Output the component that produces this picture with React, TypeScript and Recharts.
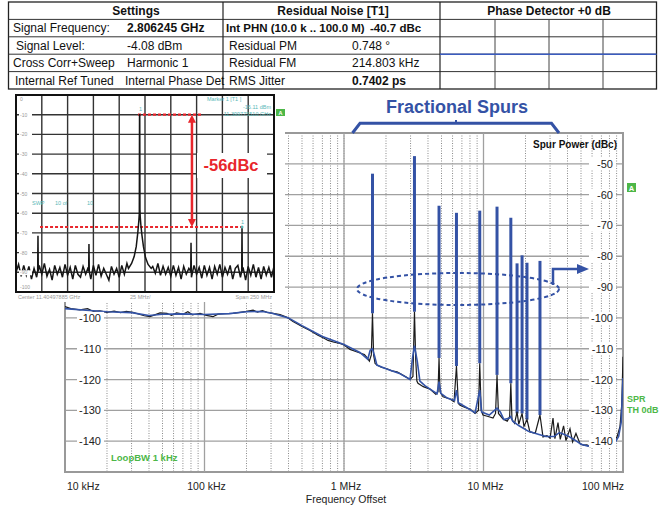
import {
  ComposedChart,
  LineChart,
  Line,
  XAxis,
  YAxis,
  CartesianGrid,
  ReferenceLine,
  ReferenceArea,
} from "recharts";

const FONT = '"Liberation Sans", Arial, Helvetica, sans-serif';
const BLUE = "#3452a5";
const GREEN = "#4db748";
const TEAL = "#5ab8b8";
const RED = "#e8262c";

// ---- main plot: frequency axis
const decadeFreq = [1e4, 1e5, 1e6, 1e7, 1e8];
const decadeLabel = ["10 kHz", "100 kHz", "1 MHz", "10 MHz", "100 MHz"];
const minorSteps = [2, 3, 4, 5, 6, 7, 8, 9];
const dbTicks = [-50, -60, -70, -80, -90, -100, -110, -120, -130, -140];

// measured phase noise (black, raw sweep)
const rawFreq = [
  1.0e4, 1.1e4, 1.28e4, 1.45e4, 1.6e4, 1.78e4, 2.0e4, 2.25e4, 2.5e4, 2.75e4,
  3.07e4, 3.4e4, 3.7e4, 4.06e4, 4.4e4, 4.8e4, 5.38e4, 5.8e4, 6.3e4, 7.0e4,
  7.6e4, 8.2e4, 9.3e4, 1.03e5, 1.15e5, 1.25e5, 1.4e5, 1.6e5, 1.8e5, 2.0e5,
  2.23e5, 2.4e5, 2.6e5, 2.81e5, 3.1e5, 3.48e5, 3.9e5, 4.31e5, 5.0e5, 5.7e5,
  6.5e5, 7.2e5, 7.68e5, 8.5e5, 9.36e5, 1.0e6, 1.104e6, 1.2e6, 1.302e6, 1.4e6,
  1.462e6, 1.52e6, 1.57e6, 1.6e6, 1.63e6, 1.67e6, 1.725e6, 1.85e6, 2.03e6, 2.2e6,
  2.4e6, 2.6e6, 2.83e6, 2.97e6, 3.12e6, 3.2e6, 3.27e6, 3.33e6, 3.39e6, 3.7e6,
  4.13e6, 4.56e6, 4.72e6, 4.8e6, 4.88e6, 5.13e6, 5.75e6, 6.15e6, 6.4e6, 6.6e6,
  6.79e6, 7.3e6, 8.0e6, 8.7e6, 9.2e6, 9.4e6, 9.62e6, 9.91e6, 1.08e7, 1.17e7,
  1.22e7, 1.25e7, 1.28e7, 1.38e7, 1.48e7, 1.54e7, 1.57e7, 1.6e7, 1.67e7, 1.74e7,
  1.79e7, 1.89e7, 1.95e7, 2.05e7, 2.15e7, 2.35e7, 2.54e7, 2.67e7, 2.85e7, 3.0e7,
  3.15e7, 3.25e7, 3.42e7, 3.55e7, 3.75e7, 3.9e7, 4.17e7, 4.35e7, 4.6e7, 4.92e7,
  5.2e7, 5.52e7, 5.8e7, 6.1e7, 6.4e7, 6.62e7, 6.85e7, 7.19e7, 7.5e7, 8.07e7,
  8.6e7, 9.06e7, 9.51e7, 9.8e7, 1.0e8,
];
const rawDbc = [
  -96.3, -97.0, -97.4, -97.0, -97.9, -97.7, -98.2, -97.8, -98.3, -97.9,
  -98.2, -98.8, -99.3, -99.6, -99.0, -98.4, -98.5, -99.2, -98.4, -98.8,
  -98.0, -99.0, -98.5, -99.2, -99.6, -98.8, -98.6, -98.5, -98.2, -97.9,
  -97.5, -98.1, -97.6, -98.2, -98.5, -98.9, -99.8, -101.2, -102.8, -104.1,
  -105.6, -106.6, -107.3, -107.9, -108.3, -108.8, -110.2, -110.8, -111.4, -111.9,
  -112.9, -114.0, -112.0, -98.5, -112.0, -114.8, -115.3, -116.0, -116.5, -117.2,
  -117.5, -118.4, -119.3, -120.0, -119.0, -98.0, -114.0, -120.5, -121.2, -122.3,
  -123.1, -124.8, -124.0, -113.0, -124.0, -125.6, -126.3, -127.2, -115.6, -127.8,
  -128.3, -129.0, -129.6, -131.0, -130.0, -114.7, -130.0, -131.5, -132.0, -132.5,
  -131.0, -118.5, -131.0, -132.8, -133.5, -132.0, -121.2, -133.0, -134.2, -130.5,
  -134.5, -131.0, -135.2, -133.0, -137.0, -137.4, -131.5, -138.6, -138.2, -139.0,
  -132.5, -139.2, -134.0, -139.4, -135.0, -139.8, -136.0, -140.2, -137.5, -140.8,
  -141.3, -141.2, -141.8, -140.8, -139.2, -138.6, -140.6, -140.2, -141.5, -141.0,
  -140.0, -138.6, -135.3, -128.0, -112.6,
];

// smoothed trace (blue)
const smoothFreq = [
  1.0e4, 1.5e4, 2.0e4, 3.0e4, 4.0e4, 5.0e4, 7.0e4, 1.0e5, 1.5e5, 2.0e5,
  2.6e5, 3.0e5, 4.0e5, 5.0e5, 7.0e5, 1.0e6, 1.3e6, 1.48e6, 1.54e6, 1.6e6,
  1.66e6, 1.72e6, 2.0e6, 2.5e6, 2.97e6, 3.1e6, 3.2e6, 3.35e6, 3.5e6, 3.8e6,
  4.3e6, 4.65e6, 4.8e6, 4.95e6, 5.5e6, 6.2e6, 6.4e6, 6.6e6, 7.5e6, 8.7e6,
  9.4e6, 9.7e6, 1.1e7, 1.2e7, 1.25e7, 1.32e7, 1.4e7, 1.54e7, 1.57e7, 1.62e7,
  1.8e7, 2.1e7, 2.5e7, 2.8e7, 3.2e7, 3.5e7, 4.0e7, 4.5e7, 5.0e7, 5.6e7,
  6.2e7, 6.6e7, 7.2e7, 8.0e7, 8.8e7, 9.3e7, 9.7e7, 1.0e8,
];
const smoothDbc = [
  -97.0, -97.6, -98.0, -98.3, -99.2, -98.8, -98.7, -98.9, -98.6, -98.0,
  -97.9, -98.4, -100.0, -102.5, -106.0, -108.6, -111.2, -113.4, -110.5, -110.0,
  -112.5, -115.3, -116.5, -118.0, -120.0, -113.0, -109.0, -114.0, -120.5, -122.0,
  -123.6, -124.6, -120.7, -124.5, -126.0, -126.8, -123.4, -127.5, -129.0, -130.8,
  -123.4, -130.5, -131.5, -130.0, -129.3, -130.5, -133.0, -132.5, -132.0, -133.5,
  -135.0, -136.8, -137.8, -138.5, -138.5, -137.2, -138.2, -139.6, -141.0, -141.6,
  -140.5, -139.3, -140.5, -141.5, -140.3, -138.5, -134.0, -119.5,
];

// fractional spurs (blue bars): offset, spur power, foot of the bar
const spurFreq = [1.6e6, 3.2e6, 4.8e6, 6.4e6, 9.4e6, 1.25e7, 1.57e7, 1.74e7, 1.89e7, 2.05e7, 2.54e7];
const spurPower = [-53.2, -47.5, -63.6, -65.9, -65.2, -63.9, -67.5, -82.3, -79.7, -82.1, -81.5];
const spurFoot = [-98.5, -98.0, -113.0, -115.6, -114.7, -118.5, -121.2, -131.0, -131.0, -133.0, -131.5];

// ---- inset spectrum (x = offset from centre, MHz)
const insetXTicks = [-125, -100, -75, -50, -25, 0, 25, 50, 75, 100, 125];
const insetYTicks = [0, -10, -20, -30, -40, -50, -60, -70, -80, -90, -100];
const insetFloor = [
  -90, -86, -92, -86.5, -91.5, -87, -93.5, -88, -92.5, -86.5,
  -91, -85.5, -92, -88.5, -94, -86.5, -91, -87.5, -92.5, -86,
  -91.5, -87.5, -93.5, -86.5, -91, -92.5, -87, -91, -87.5, -93.5,
  -86.5, -91.5, -86, -92, -88, -91, -94, -87, -91, -88,
  -92.5, -86.5, -91, -85.5, -90.5, -92.5, -87, -91, -87.5, -93,
  -88, -86.5, -91, -87, -90.5, -85.5, -91.5, -87, -91, -87.5,
  -92, -86.5, -91.5, -87.5, -93.5, -87, -91, -88, -92.5, -86.5,
  -91, -87.5, -93, -86.5, -91.5, -87.5, -93.5, -87, -91, -86,
  -92.5, -87.5, -91, -86.5, -93.5, -88, -86.5, -92.5, -87.5, -94,
  -87, -91.5, -86, -92.5, -87.5, -93.5, -87, -91.5, -87.5, -92.5, -87,
];
const carrierX = [-16, -13, -10.5, -8.5, -7, -6, -5.5, -5.3, -5.1, -4.9, -4.6, -4, -3, -1.5, 0.5, 3, 6];
const carrierY = [-88, -85.5, -82, -77, -70, -64, -60, -10, -10, -58, -62, -66, -71, -77, -82.5, -86, -88];
const insetSpurX = [-103.7, -54.3, 44.6, 94];
const insetSpurY = [-71.5, -75.7, -75, -67];
const insetSpurBase = -89.5;
const carrierLevel = -10;
const markerLevel = -67;

function buildInset() {
  const pts: { x: number; y: number }[] = [];
  insetFloor.forEach((v, i) => {
    const x = -125 + i * 2.5;
    if (x < -17 || x > 7) pts.push({ x, y: v });
  });
  carrierX.forEach((x, i) => pts.push({ x, y: carrierY[i] }));
  insetSpurX.forEach((x, i) => {
    pts.push({ x: x - 0.3, y: insetSpurBase });
    pts.push({ x, y: insetSpurY[i] });
    pts.push({ x: x + 0.3, y: insetSpurBase });
  });
  return pts.sort((a, b) => a.x - b.x);
}

const rawData = rawFreq.map((f, i) => ({ f, v: rawDbc[i] }));
const smoothData = smoothFreq.map((f, i) => ({ f, v: smoothDbc[i] }));
const gridFreq = decadeFreq
  .slice(0, 4)
  .flatMap((d) => minorSteps.map((m) => d * m))
  .concat(decadeFreq);
const insetData = buildInset();

function FreqTick(props: any) {
  const { x, y, payload } = props;
  const i = decadeFreq.indexOf(payload.value);
  if (i < 0) return <g />;
  const last = decadeFreq.length - 1;
  const anchor = i === 0 ? "start" : i === last ? "end" : "middle";
  return (
    <text x={x + (i === 0 ? 2 : i === last ? 1 : 2)} y={y + 10} textAnchor={anchor}
      fontSize={10.5} fill="#222" fontFamily={FONT}>
      {decadeLabel[i]}
    </text>
  );
}

function LeftTick(props: any) {
  const { y, payload } = props;
  if (payload.value > -100) return <g />;
  return (
    <g>
      <rect x={77} y={y - 6} width={27} height={12} fill="#fff" />
      <text x={101} y={y + 4} textAnchor="end" fontSize={11} fill="#222" fontFamily={FONT}>
        {payload.value}
      </text>
    </g>
  );
}

function RightTick(props: any) {
  const { y, payload } = props;
  return (
    <g>
      <rect x={589} y={y - 6} width={27} height={12} fill="#fff" />
      <text x={613} y={y + 4} textAnchor="end" fontSize={11} fill="#222" fontFamily={FONT}>
        {payload.value}
      </text>
    </g>
  );
}

function EmptyTick() {
  return <g />;
}

function InsetTick(props: any) {
  const { y, payload } = props;
  const ty = payload.value === 0 ? y + 6 : payload.value === -100 ? y - 3 : y + 2;
  return (
    <g>
      <rect x={4} y={ty - 4} width={13} height={5} fill="#fff" />
      <text x={5} y={ty} fontSize={5} fill="#999" fontFamily={FONT}>
        {payload.value}
      </text>
    </g>
  );
}

function RedArrow(props: any) {
  const { x1, y1, x2, y2 } = props;
  const top = Math.min(y1, y2);
  const bot = Math.max(y1, y2);
  return (
    <g>
      <line x1={x1} y1={top + 6} x2={x2} y2={bot - 6} stroke={RED} strokeWidth={2.5} />
      <polygon points={`${x1 - 4},${top + 8} ${x1 + 4},${top + 8} ${x1},${top}`} fill={RED} />
      <polygon points={`${x1 - 4},${bot - 8} ${x1 + 4},${bot - 8} ${x1},${bot}`} fill={RED} />
    </g>
  );
}

const settingsLabels = ["Signal Frequency:", "Signal Level:", "Cross Corr+Sweep", "Internal Ref Tuned"];
const settingsValues = ["2.806245 GHz", "-4.08 dBm", "Harmonic 1", "Internal Phase Det"];
const noiseLabels = ["Int PHN (10.0 k .. 100.0 M)", "Residual PM", "Residual FM", "RMS Jitter"];
const noiseValues = ["-40.7 dBc", "0.748 °", "214.803 kHz", "0.7402 ps"];

function Table() {
  const top = 2;
  const rh = 17.4;
  const rows = [0, 1, 2, 3, 4, 5].map((i) => top + i * rh);
  const labelX = [13, 16, 13, 15];
  return (
    <g fontFamily={FONT} fontSize={12} fill="#111">
      <rect x={8.5} y={top} width={648} height={rh * 5} fill="#fff" stroke="#222" strokeWidth={1.3} />
      {rows.slice(1, 5).map((y) => (
        <line key={y} x1={8.5} x2={656.5} y1={y} y2={y} stroke="#333" strokeWidth={1} />
      ))}
      <line x1={223} x2={223} y1={top} y2={top + rh * 5} stroke="#222" strokeWidth={1.2} />
      <line x1={440} x2={440} y1={top} y2={top + rh * 5} stroke="#222" strokeWidth={1.2} />
      {[495, 549, 603].map((x) => (
        <line key={x} x1={x} x2={x} y1={rows[1]} y2={rows[5]} stroke="#444" strokeWidth={1} />
      ))}
      <line x1={440} x2={656.5} y1={rows[3]} y2={rows[3]} stroke="#3a5bbf" strokeWidth={1.5} />
      <text x={136} y={rows[0] + 13} textAnchor="middle" fontWeight="bold">Settings</text>
      <text x={333} y={rows[0] + 13} textAnchor="middle" fontWeight="bold">Residual Noise [T1]</text>
      <text x={549} y={rows[0] + 13} textAnchor="middle" fontWeight="bold">Phase Detector +0 dB</text>
      {settingsLabels.map((t, i) => (
        <text key={t} x={labelX[i]} y={rows[i + 1] + 13}>{t}</text>
      ))}
      {settingsValues.map((t, i) => (
        <text key={t} x={i === 3 ? 125 : 127} y={rows[i + 1] + 13} fontWeight={i === 0 ? "bold" : "normal"}>{t}</text>
      ))}
      {noiseLabels.map((t, i) => (
        <text key={t} x={i === 0 ? 226 : 229} y={rows[i + 1] + 13} fontWeight={i === 0 ? "bold" : "normal"}
          fontSize={i === 0 ? 11.5 : 12}>{t}</text>
      ))}
      {noiseValues.map((t, i) => (
        <text key={t} x={i === 0 ? 370 : 352} y={rows[i + 1] + 13}
          fontWeight={i === 0 || i === 3 ? "bold" : "normal"} fontSize={i === 0 ? 11.5 : 12}>{t}</text>
      ))}
    </g>
  );
}

function Overlay() {
  return (
    <svg width={662} height={506} style={{ position: "absolute", left: 0, top: 0, zIndex: 3, pointerEvents: "none" }}>
      <Table />
      {/* inset frame and instrument text */}
      <rect x={16} y={95} width={258} height={197} fill="none" stroke="#111" strokeWidth={2} />
      <g fontFamily={FONT} fontSize={5.5} fill={TEAL}>
        <text x={207} y={101}>Marker 1 [T1 ]</text>
        <text x={271} y={108.5} textAnchor="end">-16.11 dBm</text>
        <text x={271} y={116} textAnchor="end">11.399775510 GHz</text>
        <text x={32} y={205}>SWP</text>
        <text x={55} y={205}>10 of</text>
        <text x={87} y={205}>10</text>
        <text x={139} y={111}>1</text>
        <text x={241} y={224}>1</text>
      </g>
      <circle cx={242} cy={227} r={1.5} fill={TEAL} />
      <g fontFamily={FONT} fontSize={5.5} fill="#999">
        <text x={18} y={299}>Center  11.40497885 GHz</text>
        <text x={130} y={299}>25 MHz/</text>
        <text x={272} y={299} textAnchor="end">Span  250 MHz</text>
      </g>
      <rect x={276} y={109} width={9} height={7} fill={GREEN} />
      <text x={280.5} y={115} fontSize={5.5} fill="#fff" textAnchor="middle" fontFamily={FONT} fontWeight="bold">A</text>
      <rect x={197} y={153} width={70} height={25} fill="#fff" />
      <text x={231} y={171} textAnchor="middle" fontSize={16.5} fontWeight="bold" fill={RED} fontFamily={FONT}>-56dBc</text>

      {/* fractional spur annotation */}
      <text x={457} y={113} textAnchor="middle" fontSize={18} fontWeight="bold" fill={BLUE} fontFamily={FONT}>
        Fractional Spurs
      </text>
      <path d="M352.5,133 L360,123.3 L551.5,123.3 L559,133" fill="none" stroke={BLUE} strokeWidth={3} />
      <line x1={456} x2={456} y1={120} y2={124} stroke={BLUE} strokeWidth={2} />
      <ellipse cx={458} cy={289} rx={101} ry={16} fill="none" stroke={BLUE} strokeWidth={2} strokeDasharray="4 3" />
      <polyline points="553,285 553,269 578,269" fill="none" stroke={BLUE} strokeWidth={2.5} />
      <polygon points="577,264 589,269 577,274" fill={BLUE} />

      <text x={617} y={148} textAnchor="end" fontSize={10} fontWeight="bold" fill="#111" fontFamily={FONT}>
        Spur Power (dBc)
      </text>
      <rect x={627} y={183} width={9} height={9} fill={GREEN} />
      <text x={631.5} y={190.5} fontSize={7.5} fill="#fff" textAnchor="middle" fontFamily={FONT} fontWeight="bold">A</text>
      <g fontFamily={FONT} fontSize={9} fontWeight="bold" fill={GREEN}>
        <text x={627} y={402}>SPR</text>
        <text x={627} y={413}>TH 0dB</text>
        <text x={111} y={461} fontSize={9.5}>LoopBW 1 kHz</text>
      </g>
      <text x={346} y={503} textAnchor="middle" fontSize={10.5} fill="#222" fontFamily={FONT}>
        Frequency Offset
      </text>
    </svg>
  );
}

export default function App() {
  return (
    <div style={{ position: "absolute", left: 0, top: 0, width: 662, height: 506, background: "#fff", fontFamily: FONT }}>
      <div style={{ position: "absolute", left: 0, top: 0, zIndex: 1 }}>
        <ComposedChart width={662} height={506} margin={{ top: 133, right: 38, bottom: 4, left: 64 }}>
          <CartesianGrid horizontal={false} stroke="#8a8a8a" strokeDasharray="1 1.5" />
          <CartesianGrid vertical={false} stroke="#a0a0a0" strokeWidth={1.3} />
          <XAxis type="number" dataKey="f" scale="log" domain={[1e4, 1e8]} ticks={gridFreq}
            interval={0} allowDataOverflow height={30} tick={<FreqTick />} tickLine={false} axisLine={false} />
          <YAxis type="number" domain={[-150, -40]} ticks={dbTicks} allowDataOverflow width={1}
            tick={<LeftTick />} tickLine={false} axisLine={false} interval={0} />
          <YAxis yAxisId="r" orientation="right" type="number" domain={[-150, -40]} ticks={dbTicks}
            allowDataOverflow width={1} tick={<RightTick />} tickLine={false} axisLine={false} interval={0} />
          {decadeFreq.slice(1, 4).map((f) => (
            <ReferenceLine key={f} x={f} stroke="#a0a0a0" strokeWidth={1.3} />
          ))}
          <ReferenceArea x1={1e4} x2={1e8} y1={-150} y2={-40} fill="none" stroke="#999" strokeWidth={2} />
          {spurFreq.map((f, i) => (
            <Line key={f} data={[{ f, v: spurPower[i] }, { f, v: spurFoot[i] }]} dataKey="v"
              stroke={BLUE} strokeWidth={3} dot={false} isAnimationActive={false} />
          ))}
          <Line data={rawData} dataKey="v" stroke="#1b1b1b" strokeWidth={1.2} dot={false} isAnimationActive={false} />
          <Line data={smoothData} dataKey="v" stroke="#3454a8" strokeWidth={1.6} dot={false} isAnimationActive={false} />
        </ComposedChart>
      </div>

      <div style={{ position: "absolute", left: 8, top: 90, width: 277, height: 212, background: "#fff", zIndex: 2 }}>
        <div style={{ position: "absolute", left: 7, top: 5 }}>
          <LineChart width={259} height={198} margin={{ top: 0, right: 0, bottom: 0, left: 0 }}>
            <CartesianGrid stroke="#333" strokeWidth={1.4} />
            <XAxis type="number" dataKey="x" domain={[-125, 125]} ticks={insetXTicks} interval={0}
              height={1} tick={<EmptyTick />} tickLine={false} axisLine={false} />
            <YAxis type="number" domain={[-100, 0]} ticks={insetYTicks} interval={0} width={1}
              tick={<InsetTick />} tickLine={false} axisLine={false} />
            <ReferenceLine segment={[{ x: -101.7, y: markerLevel }, { x: 94, y: markerLevel }]}
              stroke={RED} strokeWidth={2.2} strokeDasharray="3 2" />
            <ReferenceLine segment={[{ x: -6.8, y: carrierLevel }, { x: 56, y: carrierLevel }]}
              stroke={RED} strokeWidth={2.2} strokeDasharray="3 2" />
            <Line data={insetData} dataKey="y" stroke="#151515" strokeWidth={1.5} dot={false} isAnimationActive={false} />
            <ReferenceLine segment={[{ x: 45.5, y: carrierLevel }, { x: 45.5, y: markerLevel }]}
              shape={RedArrow} />
          </LineChart>
        </div>
      </div>

      <Overlay />
    </div>
  );
}
